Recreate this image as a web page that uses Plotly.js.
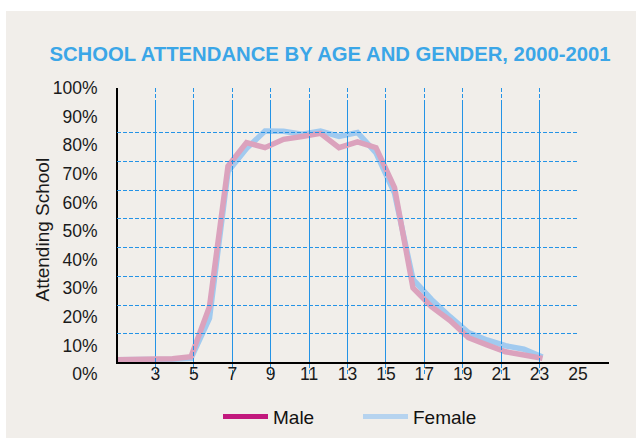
<!DOCTYPE html>
<html>
<head>
<meta charset="utf-8">
<script src="https://cdn.plot.ly/plotly-3.0.1.min.js"></script>
<style>
html,body{margin:0;padding:0;background:#ffffff;}
#chart{width:642px;height:438px;}
</style>
</head>
<body>
<div id="chart"></div>
<script>
// ---- data ----
const ages = [1,2,3,4,5,6,7,8,9,10,11,12,13,14,15,16,17,18,19,20,21,22,23,24];
const male = [1,1,1,1.4,2.1,19.5,68.4,76.6,74.8,77.7,78.7,79.8,74.8,76.8,74.8,60.9,26,19.5,14.7,8.7,6.2,3.8,2.7,1.5];
const female = [1,1,1,1.2,1.5,15.5,66.5,74.5,80.6,80.5,79.5,80.6,78.7,80.1,73,59,29,22,16,10.5,7.9,5.9,4.7,2];
const xTickVals = [3,5,7,9,11,13,15,17,19,21,23,25];
const yTickVals = [0,10,20,30,40,50,60,70,80,90,100];
const yTickText = ['0%','10%','20%','30%','40%','50%','60%','70%','80%','90%','100%'];
const seriesNames = ['Male','Female'];
const titleText = 'SCHOOL ATTENDANCE BY AGE AND GENDER, 2000-2001';
const yTitleText = 'Attending School';

// ---- geometry (pixels -> paper) ----
const W = 642, H = 438;
const px = v => v / W;
const py = v => (H - v) / H;
const FONT = 'Liberation Sans, Arial, sans-serif';

const traces = [
  {x: ages, y: female, xaxis: 'x2', yaxis: 'y', mode: 'lines', name: seriesNames[1],
   line: {color: '#a1caef', width: 5.5}, showlegend: false, hoverinfo: 'skip'},
  {x: ages, y: male, xaxis: 'x2', yaxis: 'y', mode: 'lines', name: seriesNames[0],
   line: {color: '#dba2bd', width: 5.5}, showlegend: false, hoverinfo: 'skip'},
  // legend entries
  {x: [null], y: [null], xaxis: 'x', yaxis: 'y', mode: 'lines', name: seriesNames[0],
   line: {color: '#c2187d', width: 5}},
  {x: [null], y: [null], xaxis: 'x', yaxis: 'y', mode: 'lines', name: seriesNames[1],
   line: {color: '#b6d3ef', width: 5}},
  // anchors for label / line axes
  {x: [], y: [], xaxis: 'x', yaxis: 'y2', mode: 'lines', showlegend: false, hoverinfo: 'skip'},
  {x: [], y: [], xaxis: 'x3', yaxis: 'y3', mode: 'lines', showlegend: false, hoverinfo: 'skip'},
  {x: [], y: [], xaxis: 'x4', yaxis: 'y', mode: 'lines', showlegend: false, hoverinfo: 'skip'}
];

const gridBase = {showgrid: true, gridcolor: '#2493e6', gridwidth: 1, griddash: '4px,2px', zeroline: false};

const layout = {
  width: W, height: H,
  margin: {l: 0, r: 0, t: 0, b: 0},
  paper_bgcolor: '#ffffff',
  plot_bgcolor: 'rgba(0,0,0,0)',
  font: {family: FONT, color: '#1a1a1a'},
  title: {
    text: titleText,
    font: {family: FONT, size: 20.3, color: '#3ba6e7', weight: 'bold'},
    x: px(330), xref: 'paper', xanchor: 'center',
    y: py(53.5), yref: 'paper', yanchor: 'middle'
  },
  xaxis: Object.assign({}, gridBase, {
    domain: [px(117), px(578)], range: [1, 25], anchor: 'y',
    tickmode: 'array', tickvals: xTickVals,
    showticklabels: false, ticks: '', showline: false
  }),
  xaxis2: {overlaying: 'x', range: [1, 1 + 461 / 18.5], visible: false, anchor: 'y'},
  xaxis3: {domain: [px(116), px(608.5)], range: [0, 1], anchor: 'free', position: py(362.7),
    showline: true, linecolor: '#000000', linewidth: 2, showgrid: false, zeroline: false,
    showticklabels: false, ticks: ''},
  xaxis4: {domain: [px(117), px(578)], range: [1, 25], anchor: 'free', position: py(361),
    tickmode: 'array', tickvals: xTickVals, ticks: '',
    tickfont: {family: FONT, size: 17.5, color: '#1a1a1a'},
    showgrid: false, zeroline: false, showline: false},
  yaxis: Object.assign({}, gridBase, {
    domain: [py(362.7), py(104)], range: [0, 90], anchor: 'x',
    dtick: 10, showticklabels: false, ticks: '', showline: false
  }),
  yaxis2: {domain: [py(374), py(88)], range: [0, 100], anchor: 'free', position: px(117),
    tickmode: 'array', tickvals: yTickVals, ticktext: yTickText,
    ticks: 'outside', ticklen: 16, tickcolor: 'rgba(0,0,0,0)',
    tickfont: {family: FONT, size: 17.5, color: '#1a1a1a'},
    showgrid: false, zeroline: false, showline: false},
  yaxis3: {domain: [py(362.7), py(88)], range: [0, 1], anchor: 'free', position: px(117),
    showline: true, linecolor: '#000000', linewidth: 2, showgrid: false, zeroline: false,
    showticklabels: false, ticks: ''},
  legend: {orientation: 'h', x: px(218), xanchor: 'left', y: py(416.7), yanchor: 'middle',
    bgcolor: 'rgba(0,0,0,0)', font: {family: FONT, size: 19, color: '#111111'},
    itemwidth: 45, entrywidth: 80, entrywidthmode: 'pixels', tracegroupgap: 0},
  annotations: [{
    text: yTitleText, textangle: -90, showarrow: false,
    xref: 'paper', yref: 'paper', x: px(42), y: py(229.5), xanchor: 'center', yanchor: 'middle',
    font: {family: FONT, size: 19, color: '#1a1a1a'}
  }],
  shapes: [{
    type: 'rect', layer: 'below', xref: 'paper', yref: 'paper',
    x0: px(6), x1: px(636), y0: 0, y1: py(11),
    line: {width: 0}, fillcolor: '#f1eeea'
  }]
};

Plotly.newPlot('chart', traces, layout, {staticPlot: true, displayModeBar: false});
</script>
</body>
</html>
